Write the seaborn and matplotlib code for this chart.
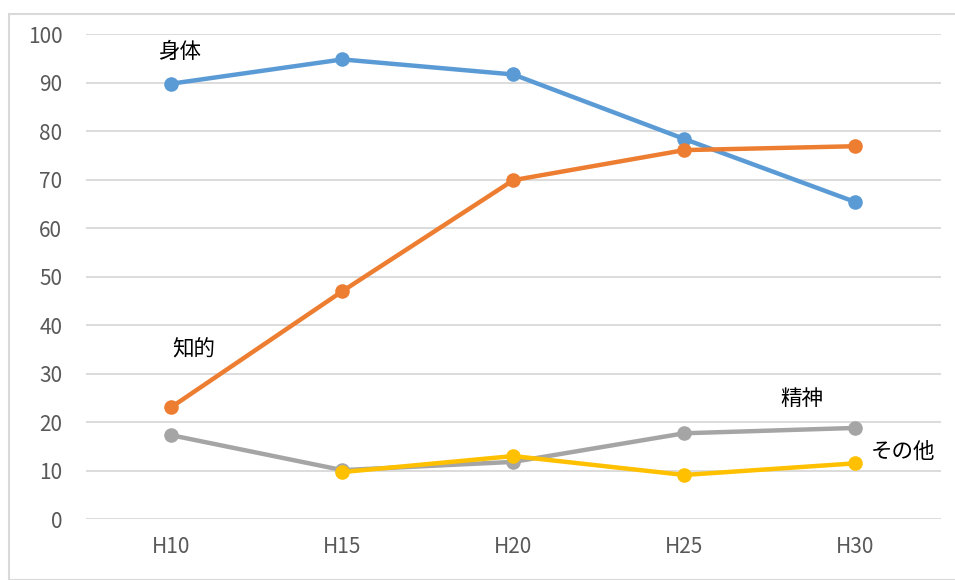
import seaborn as sns
import matplotlib.pyplot as plt
import pandas as pd
import numpy as np
from matplotlib.patches import Rectangle

# データ
years = ["H10", "H15", "H20", "H25", "H30"]
shintai = [89.8, 94.8, 91.7, 78.4, 65.4]
chiteki = [23.1, 47.0, 69.9, 76.1, 76.9]
seishin = [17.3, 10.1, 11.8, 17.7, 18.8]
sonota = [np.nan, 9.7, 13.0, 9.1, 11.5]

series = {"身体": shintai, "知的": chiteki, "精神": seishin, "その他": sonota}
colors = ["#5B9BD5", "#ED7D31", "#A5A5A5", "#FFC000"]

rows = []
for name, vals in series.items():
    for y, v in zip(years, vals):
        rows.append({"year": y, "kind": name, "value": v})
df = pd.DataFrame(rows).dropna()

sns.set_style("white")
plt.rcParams['font.family'] = ['Noto Sans CJK JP', 'DejaVu Sans']

fig = plt.figure(figsize=(9.55, 5.8), dpi=100)
ax = fig.add_axes([0.090, 0.105, 0.895, 0.836])

sns.lineplot(data=df, x="year", y="value", hue="kind", hue_order=list(series.keys()),
             palette=colors, linewidth=3.2, marker="o", markersize=10.5,
             markeredgewidth=0, legend=False, ax=ax, sort=False)

ax.set_xlim(-0.5, 4.5)
ax.set_ylim(0, 100)
ax.set_yticks(range(0, 101, 10))
ax.yaxis.grid(True, color="#D9D9D9", linewidth=1.3)
ax.set_axisbelow(True)
for s in ax.spines.values():
    s.set_visible(False)
ax.set_xlabel("")
ax.set_ylabel("")
ax.tick_params(axis="both", length=0, labelsize=15, labelcolor="#595959")
ax.tick_params(axis="x", pad=12)
ax.tick_params(axis="y", pad=17)

# 系列ラベル
fs = 15.5
ax.text(0.05, 96.3, "身体", fontsize=fs, ha="center", va="center", color="black")
ax.text(0.13, 35.1, "知的", fontsize=fs, ha="center", va="center", color="black")
ax.text(3.69, 24.7, "精神", fontsize=fs, ha="center", va="center", color="black")
ax.text(4.28, 13.8, "その他", fontsize=fs, ha="center", va="center", color="black")

# 外枠
fig.patches.append(Rectangle((9 / 955, 0), 1.2, 1 - 14 / 580, transform=fig.transFigure,
                             fill=False, edgecolor="#D9D9D9", linewidth=1.5))

fig.savefig("out.png", dpi=100)
